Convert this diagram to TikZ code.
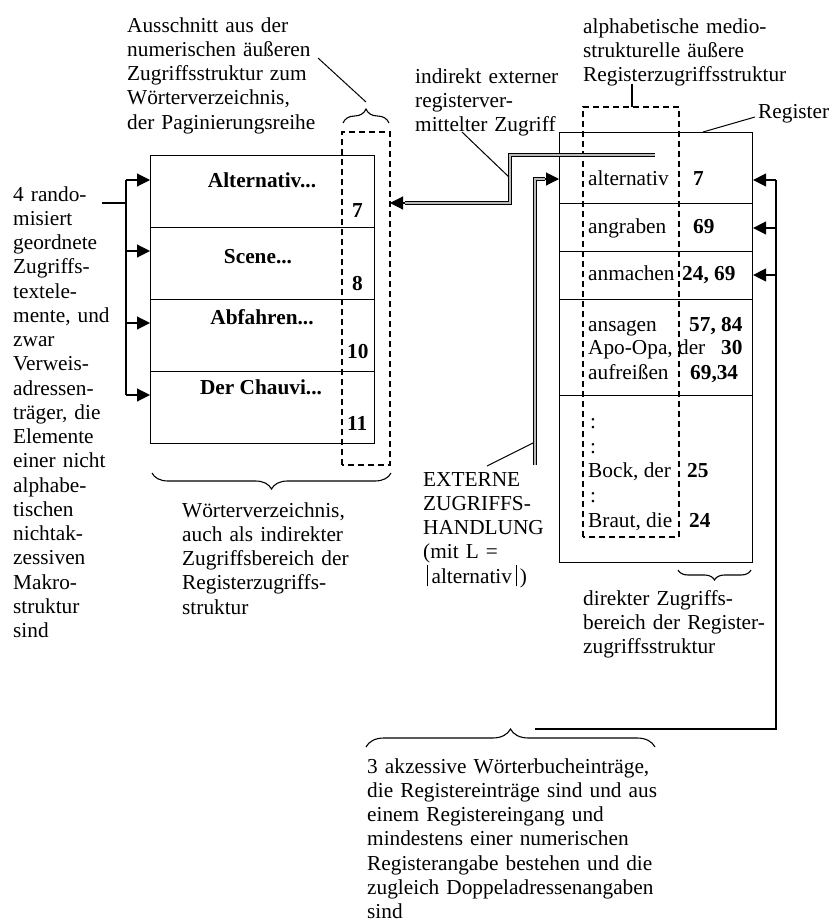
\documentclass[tikz,border=0pt]{standalone}
\usepackage{fontspec}
\setmainfont{Liberation Serif}
\usetikzlibrary{arrows.meta,decorations.pathreplacing}
\begin{document}
\begin{tikzpicture}[x=1pt,y=-1pt,
  fnt/.style={font=\fontsize{21.3}{24.25}\selectfont},
  txt/.style={fnt,anchor=base west,inner sep=0pt,align=left},
  lbl/.style={anchor=base west,inner sep=0pt,font=\fontsize{21.3}{24.25}\selectfont},
  num/.style={anchor=base west,inner sep=0pt,font=\fontsize{21.3}{24.25}\selectfont\bfseries},
  ttl/.style={anchor=base,inner sep=0pt,font=\fontsize{21.3}{24.25}\selectfont\bfseries},
  rowbox/.style={draw,line width=1.1pt,anchor=north west,inner sep=0pt,minimum width=224pt,minimum height=72pt},
  regbox/.style={draw,line width=1.1pt,anchor=north west,inner sep=0pt,minimum width=193pt},
  dsh/.style={line width=1.1pt,dash pattern=on 6pt off 4pt},
  lead/.style={line width=1pt},
  arr/.style={line width=1.1pt,-{Triangle[length=13pt,width=13pt]}},
  dbl/.style={line width=0.9pt,draw=black,double=gray!55,double distance=2pt},
  brc/.style={line width=1.1pt,decorate,decoration={brace,amplitude=#1}},
]
\useasboundingbox (0,0) rectangle (829,922);

% ---------- left box (Woerterverzeichnis) ----------
\node[rowbox] (L1) at (150,155) {};
\node[rowbox] (L2) at (150,227) {};
\node[rowbox] (L3) at (150,299) {};
\node[rowbox] (L4) at (150,371) {};
\node[ttl] (t1) at (262,187) {Alternativ...};
\node[num] (n1) at (352,217) {7};
\node[ttl] (t2) at (258,263) {Scene...};
\node[num] (n2) at (352,290) {8};
\node[ttl] (t3) at (262,324) {Abfahren...};
\node[num] (n3) at (347,358) {10};
\node[ttl] (t4) at (261,394) {Der Chauvi...};
\node[num] (n4) at (347,430) {11};
\draw[dsh] (342,465) -- (342,132) -- (390,132) -- (390,465) -- cycle;

% ---------- right box (Register) ----------
\node[regbox,minimum height=71pt] (R1) at (559,132) {};
\node[regbox,minimum height=48pt] (R2) at (559,203) {};
\node[regbox,minimum height=48pt] (R3) at (559,251) {};
\node[regbox,minimum height=96pt] (R4) at (559,299) {};
\node[regbox,minimum height=167pt] (R5) at (559,395) {};
\draw[dsh] (583,537) -- (583,107) -- (679,107) -- (679,537) -- cycle;
\coordinate (dtk) at (632,107);
\coordinate (dtt) at (632,84);
\draw[line width=1.1pt] (dtk) -- (dtt);

\node[lbl] (e1) at (588,185) {alternativ};
\node[num] (e1n) at (693,185) {7};
\node[lbl] (e2) at (588,233) {angraben};
\node[num] (e2n) at (693,233) {69};
\node[lbl] (e3) at (588,280) {anmachen};
\node[num] (e3n) at (682,280) {24, 69};
\node[lbl] (e4) at (588,331) {ansagen};
\node[num] (e4n) at (689,331) {57, 84};
\node[lbl] (e5) at (588,354) {Apo-Opa, der};
\node[num] (e5n) at (721,354) {30};
\node[lbl] (e6) at (588,379) {aufreißen};
\node[num] (e6n) at (690,379) {69,34};
\node[lbl] (c1) at (590,428) {:};
\node[lbl] (c2) at (590,453) {:};
\node[lbl] (e7) at (588,477) {Bock, der};
\node[num] (e7n) at (687,477) {25};
\node[lbl] (c3) at (590,502) {:};
\node[lbl] (e8) at (588,527) {Braut, die};
\node[num] (e8n) at (689,527) {24};

% ---------- texts ----------
\node[txt,text width=190pt] (ta) at (127,32) {Ausschnitt aus der\\numerischen äußeren\\Zugriffsstruktur zum\\Wörterverzeichnis,\\der Paginierungsreihe};
\node[txt,text width=165pt] (tb) at (415,83) {indirekt externer\\registerver-\\mittelter Zugriff};
\node[txt,text width=215pt] (tc) at (583,33) {alphabetische medio-\\strukturelle äußere\\Registerzugriffsstruktur};
\node[lbl] (td) at (758,118) {Register};
\node[txt,text width=115pt] (te) at (13,201) {4 rando-\\misiert\\geordnete\\Zugriffs-\\textele-\\mente, und\\zwar\\Verweis-\\adressen-\\träger, die\\Elemente\\einer nicht\\alphabe-\\tischen\\nichtak-\\zessiven\\Makro-\\struktur\\sind};
\node[txt,text width=175pt] (tf) at (182,517) {Wörterverzeichnis,\\auch als indirekter\\Zugriffsbereich der\\Registerzugriffs-\\struktur};
\node[txt,text width=130pt] (tg) at (423,486) {EXTERNE\\ZUGRIFFS-\\HANDLUNG\\(mit L =\\\hspace*{4pt}\rule[-3pt]{0.8pt}{21pt}\,alternativ\,\rule[-3pt]{0.8pt}{21pt}\,)};
\node[txt,text width=190pt] (th) at (583,605) {direkter Zugriffs-\\bereich der Register-\\zugriffsstruktur};
\node[txt,text width=300pt] (ti) at (367,773) {3 akzessive Wörterbucheinträge,\\die Registereinträge sind und aus\\einem Registereingang und\\mindestens einer numerischen\\Registerangabe bestehen und die\\zugleich Doppeladressenangaben\\sind};

% ---------- braces ----------
\draw[brc=14pt] (343,123) -- (389,123);
\draw[brc=16pt] (391,473) -- (152,473);
\draw[brc=10pt] (751,570) -- (678,570);
\draw[brc=18pt] (366,747) -- (655,747);

% ---------- leaders ----------
\coordinate (la0) at (318,58);
\coordinate (la1) at (366,102);
\draw[lead] (la0) -- (la1);
\coordinate (lb0) at (462,132);
\coordinate (lb1) at (510,178);
\draw[lead] (lb0) -- (lb1);
\coordinate (lc0) at (703,132);
\coordinate (lc1) at (755,117);
\draw[lead] (lc0) -- (lc1);
\coordinate (ld0) at (487,466);
\coordinate (ld1) at (535,442);
\draw[lead] (ld0) -- (ld1);

% ---------- left bracket arrows ----------
\coordinate (lq) at (102,203);
\coordinate (lv) at (126,203);
\draw[line width=1.1pt] (lq) -- (lv);
\coordinate (lt) at (126,180);
\coordinate (lbt) at (126,395);
\draw[line width=1.1pt] (lt) -- (lbt);
\foreach \yy/\nn in {180/L1,251/L2,323/L3,395/L4}{
  \coordinate (ls) at (126,\yy);
  \draw[arr] (ls) -- (\nn.west |- ls);
}

% ---------- right bracket arrows ----------
\coordinate (rt) at (776,180);
\coordinate (rb) at (776,729);
\coordinate (rbe) at (535,729);
\draw[line width=1.1pt] (rt) -- (rb) -- (rbe);
\foreach \yy/\nn in {180/R1,228/R2,275/R3}{
  \coordinate (rs) at (776,\yy);
  \draw[arr] (rs) -- (\nn.east |- rs);
}

% ---------- double-line accesses ----------
\coordinate (da1) at (655,155);
\coordinate (da2) at (510,155);
\coordinate (da3) at (510,203);
\coordinate (da4) at (405,203);
\coordinate (dat) at (390,203);
\draw[dbl] (da1) -- (da2) -- (da3) -- (da4);
\draw[arr] (da4) -- (dat);

\coordinate (db1) at (535,465);
\coordinate (db2) at (535,179);
\coordinate (db3) at (545,179);
\draw[dbl] (db1) -- (db2) -- (db3);
\draw[arr] (db3) -- (R1.west |- db3);
\end{tikzpicture}
\end{document}
